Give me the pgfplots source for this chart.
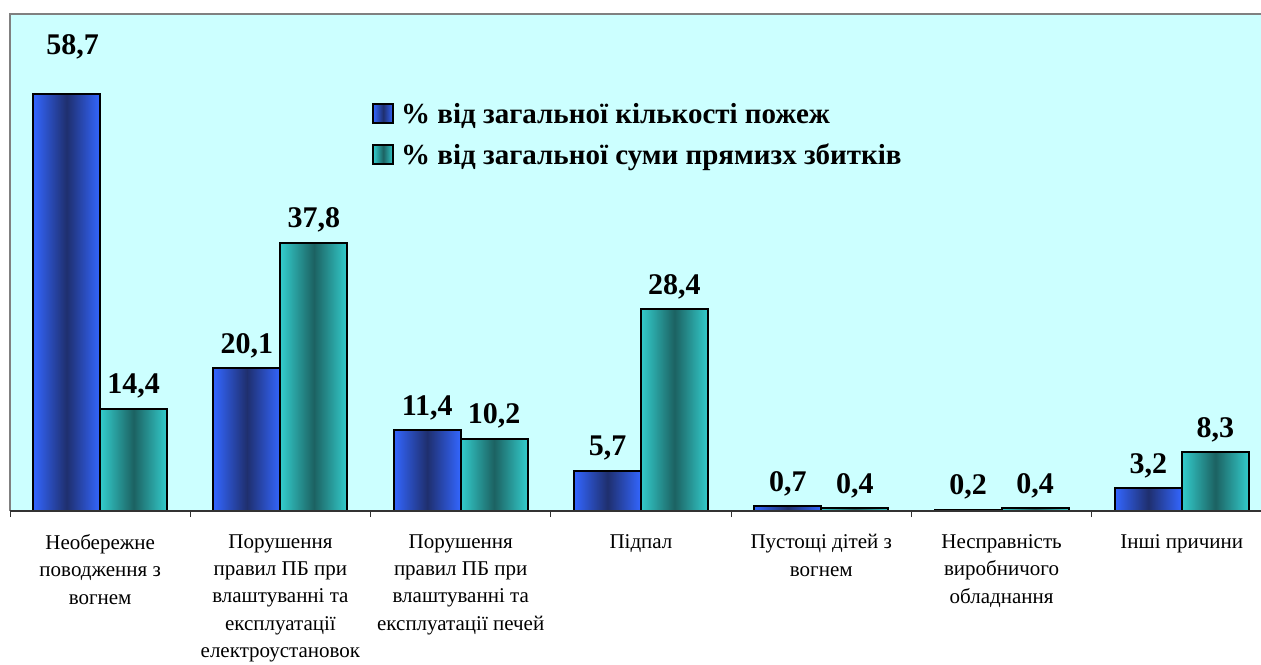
\documentclass[border=0pt]{standalone}
\usepackage{fontspec}
\setmainfont{Liberation Serif}
\usepackage{pgfplots}
\usepackage{pgfplotstable}
\pgfplotsset{compat=1.18}
\definecolor{bg}{HTML}{CCFFFF}
\definecolor{bluL}{HTML}{3366FF}
\definecolor{bluD}{HTML}{1F2F6E}
\definecolor{tealL}{HTML}{33CCCC}
\definecolor{tealD}{HTML}{1C6262}
\definecolor{frm}{HTML}{808080}
\pgfplotsset{
  sqleg/.style={legend image code/.code={\draw[##1, line width=2pt] (0pt,-9pt) rectangle (20pt,10pt); \path (25pt,0pt);}},
  bluebar/.style={draw=black, line width=2pt, left color=bluL, right color=bluL, middle color=bluD},
  tealbar/.style={draw=black, line width=2pt, left color=tealL, right color=tealL, middle color=tealD},
}
% x  share-of-fires  label  share-of-losses  label
\pgfplotstableread{
x a la b lb
0 58.7 {\raisebox{29pt}{\hspace*{12pt}58,7}} 14.4 14,4
1 20.1 20,1 37.8 37,8
2 11.4 11,4 10.2 10,2
3 5.7 5,7 28.4 28,4
4 0.7 0,7 0.4 0,4
5 0.2 0,2 0.4 0,4
6 3.2 3,2 8.3 8,3
}\data
\begin{document}
\begin{tikzpicture}
\useasboundingbox (-10pt,-153pt) rectangle (1251pt,511pt);
\begin{axis}[
  at={(0pt,0pt)}, anchor=south west,
  scale only axis, width=1251pt, height=497pt,
  xmin=-0.5, xmax=6.439, ymin=0, ymax=70,
  ybar=0pt, bar width=67pt,
  every axis plot post/.append style={bar shift=0pt},
  axis background/.style={fill=bg},
  axis line style={draw=none},
  ytick=\empty,
  xtick={0,...,6}, xtick pos=bottom,
  major tick length=0pt,
  minor xtick={-0.5,0.5,...,5.5},
  minor x tick style={draw=black!80, line width=1pt},
  minor tick length=6pt, tick align=outside,
  xticklabels={{Необережне\\поводження з\\вогнем},
    {Порушення\\правил ПБ при\\влаштуванні та\\експлуатації\\електроустановок},
    {Порушення\\правил ПБ при\\влаштуванні та\\експлуатації печей},
    {Підпал},
    {Пустощі дітей з\\вогнем},
    {Несправність\\виробничого\\обладнання},
    {Інші причини}},
  xticklabel style={align=center, font=\fontsize{21}{27.3}\selectfont, anchor=north, yshift=-20pt},
  nodes near coords, point meta=explicit symbolic,
  every node near coord/.append style={font=\fontsize{30}{31}\selectfont\bfseries, anchor=south, yshift=6pt},
  legend style={at={(axis description cs:0.287,0.829)}, anchor=north west, draw=none, fill=none,
    font=\fontsize{29}{31}\selectfont\bfseries, row sep=15pt, legend cell align=left},
  clip=false,
  after end axis/.code={
    \draw[frm, line width=2pt] (rel axis cs:0,0) -- (rel axis cs:0,1) -- (rel axis cs:1,1);
    \draw[black!80, line width=1.5pt] (rel axis cs:0,0) -- (rel axis cs:1,0);
  },
]
\pgfplotsinvokeforeach{0,...,6}{
  \addplot[bluebar, forget plot] table[x expr=\coordindex-0.1858, y=a, meta=la,
    restrict expr to domain={\coordindex}{#1:#1}] {\data};
  \addplot[tealbar, forget plot] table[x expr=\coordindex+0.1858, y=b, meta=lb,
    restrict expr to domain={\coordindex}{#1:#1}] {\data};
}
\addlegendimage{bluebar, sqleg}
\addlegendentry{\% від загальної кількості пожеж}
\addlegendimage{tealbar, sqleg}
\addlegendentry{\% від загальної суми прямизх збитків}
\end{axis}
\end{tikzpicture}
\end{document}
